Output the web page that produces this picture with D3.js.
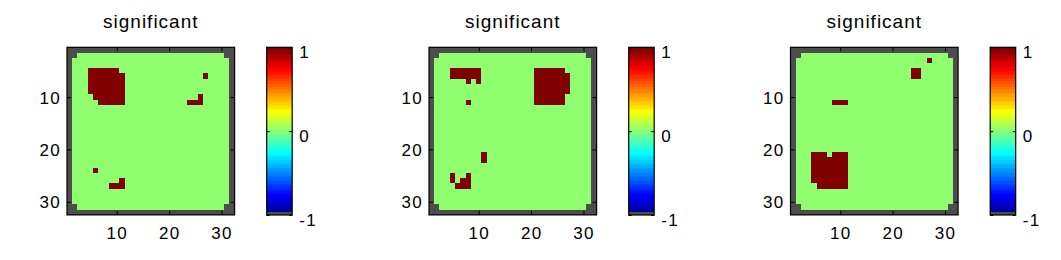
<!DOCTYPE html>
<html><head><meta charset="utf-8">
<script src="https://cdn.jsdelivr.net/npm/d3@7"></script>
<style>
body{margin:0;background:#fff}
svg{display:block}
text{font-family:"Liberation Sans",Arial,Helvetica,sans-serif;fill:#000}
</style>
</head><body>
<svg id="chart" width="1061" height="260"></svg>
<script>
// ---------------- data ----------------
const gridSize = 32;
const xTickValues = [10, 20, 30];
const yTickValues = [10, 20, 30];
const colorbarTicks = [-1, 0, 1];
const titles = ["significant", "significant", "significant"];
const maskValue = -1, baseValue = 0, sigValue = 1;
// rectangles [rowStart,rowEnd,colStart,colEnd] (1-based, inclusive)
const maskRects = [[1,1,1,32],[32,32,1,32],[1,32,1,1],[1,32,32,32],
                   [2,2,2,2],[2,2,31,31],[31,31,2,2],[31,31,31,31]];
const sigPanel1 = [[5,5,5,10],[6,9,5,11],[10,10,6,11],[11,11,7,11],
                   [6,6,27,27],[10,10,26,26],[11,11,24,26],
                   [24,24,6,6],[26,26,11,11],[27,27,9,11]];
const sigPanel2 = [[5,6,5,10],[7,7,8,8],[7,7,10,10],[11,11,8,8],
                   [5,5,21,26],[6,9,21,27],[10,11,21,26],
                   [21,22,11,11],
                   [25,26,5,5],[25,25,8,8],[26,26,7,8],[27,27,6,8]];
const sigPanel3 = [[3,3,27,27],[5,6,24,25],[11,11,9,11],
                   [21,21,5,7],[21,21,9,11],[22,26,5,11],[27,27,6,11]];
const panelsSig = [sigPanel1, sigPanel2, sigPanel3];

// ---------------- layout ----------------
const panelLeft = [67, 429, 790.5];
const boxTop = 47.3, boxSize = 167.6;
const cbOffset = 199.7, cbWidth = 25.5, cbTop = 47.3, cbBottom = 215;

// ---------------- colormap (MATLAB jet(64), first entry gray) ----------------
function jet(n){
  const m = Math.ceil(n/4);
  const u = [];
  for (let i=1;i<=m;i++) u.push(i/m);
  for (let i=0;i<m-1;i++) u.push(1);
  for (let i=m;i>=1;i--) u.push(i/m);
  const g0 = Math.ceil(m/2) - (n%4===1?1:0);
  const J = Array.from({length:n},()=>[0,0,0]);
  u.forEach((v,k)=>{
    const g = g0+k+1, r = g+m, b = g-m;
    if (r<=n) J[r-1][0]=v;
    if (g<=n) J[g-1][1]=v;
    if (b>=1) J[b-1][2]=v;
  });
  return J;
}
const cmapArr = jet(64);
cmapArr[0] = [0.3,0.3,0.3];
const cmap = cmapArr.map(c=>d3.rgb(c[0]*255,c[1]*255,c[2]*255).formatHex());
const color = d3.scaleQuantize().domain([-1,1]).range(cmap);

function buildMatrix(sig){
  const cells = [];
  const M = Array.from({length:gridSize},()=>Array(gridSize).fill(baseValue));
  maskRects.forEach(([r0,r1,c0,c1])=>{for(let r=r0;r<=r1;r++)for(let c=c0;c<=c1;c++)M[r-1][c-1]=maskValue;});
  sig.forEach(([r0,r1,c0,c1])=>{for(let r=r0;r<=r1;r++)for(let c=c0;c<=c1;c++)M[r-1][c-1]=sigValue;});
  for(let r=1;r<=gridSize;r++)for(let c=1;c<=gridSize;c++)cells.push({row:r,col:c,v:M[r-1][c-1]});
  return cells;
}

const svg = d3.select("#chart");
const idx = d3.range(1, gridSize+1);

panelsSig.forEach((sig,p)=>{
  const L = panelLeft[p];
  const g = svg.append("g");
  const xb = d3.scaleBand().domain(idx).range([L, L+boxSize]);
  const yb = d3.scaleBand().domain(idx).range([boxTop, boxTop+boxSize]);
  const x = d3.scaleLinear().domain([0.5, gridSize+0.5]).range([L, L+boxSize]);
  const y = d3.scaleLinear().domain([0.5, gridSize+0.5]).range([boxTop, boxTop+boxSize]);

  g.append("g").attr("shape-rendering","crispEdges")
    .selectAll("rect").data(buildMatrix(sig)).join("rect")
    .attr("x",d=>xb(d.col)).attr("y",d=>yb(d.row))
    .attr("width",xb.bandwidth()+0.3).attr("height",yb.bandwidth()+0.3)
    .attr("fill",d=>color(d.v));

  // axes with inward ticks
  const bottom = g.append("g").attr("transform",`translate(0,${boxTop+boxSize})`)
    .call(d3.axisBottom(x).tickValues(xTickValues).tickSizeInner(-4).tickSizeOuter(0).tickPadding(0));
  const top = g.append("g").attr("transform",`translate(0,${boxTop})`)
    .call(d3.axisTop(x).tickValues(xTickValues).tickSizeInner(-4).tickSizeOuter(0).tickFormat(""));
  const left = g.append("g").attr("transform",`translate(${L},0)`)
    .call(d3.axisLeft(y).tickValues(yTickValues).tickSizeInner(-4).tickSizeOuter(0).tickPadding(0));
  const right = g.append("g").attr("transform",`translate(${L+boxSize},0)`)
    .call(d3.axisRight(y).tickValues(yTickValues).tickSizeInner(-4).tickSizeOuter(0).tickFormat(""));
  [bottom,top,left,right].forEach(a=>{a.select(".domain").remove();a.selectAll("line").attr("stroke","#000");});
  bottom.selectAll("text").attr("y",24).attr("dy",null).attr("font-size","17px").attr("letter-spacing","1.3px");
  left.selectAll("text").attr("x",-6).attr("dy","0.36em").attr("font-size","17px").attr("letter-spacing","1.3px");
  g.append("rect").attr("x",L).attr("y",boxTop).attr("width",boxSize).attr("height",boxSize)
    .attr("fill","none").attr("stroke","#000").attr("stroke-width",1.2);

  g.append("text").attr("x",L+boxSize/2).attr("y",28).attr("text-anchor","middle")
    .attr("font-size","19px").attr("letter-spacing","1px").text(titles[p]);

  // colorbar (bands drawn top-down so each lower band covers the overlap above it)
  const cL = L + cbOffset;
  const cy = d3.scaleLinear().domain([-1,1]).range([cbBottom, cbTop]);
  const step = 2/cmap.length;
  const bands = cmap.map((c,i)=>({c,i})).reverse();
  const cb = g.append("g");
  cb.append("g").attr("shape-rendering","crispEdges")
    .selectAll("rect").data(bands).join("rect")
    .attr("x",cL).attr("width",cbWidth)
    .attr("y",d=>cy(-1+(d.i+1)*step))
    .attr("height",d=>cy(-1+d.i*step)-cy(-1+(d.i+1)*step)+(d.i>0?1:0))
    .attr("fill",d=>d.c);
  cb.append("rect").attr("x",cL).attr("y",cbTop).attr("width",cbWidth).attr("height",cbBottom-cbTop)
    .attr("fill","none").attr("stroke","#000").attr("stroke-width",1.2);
  const cbr = cb.append("g").attr("transform",`translate(${cL+cbWidth},0)`)
    .call(d3.axisRight(cy).tickValues(colorbarTicks).tickSizeInner(-3).tickSizeOuter(0).tickPadding(7).tickFormat(d3.format("d")));
  const cbl = cb.append("g").attr("transform",`translate(${cL},0)`)
    .call(d3.axisLeft(cy).tickValues(colorbarTicks).tickSizeInner(-3).tickSizeOuter(0).tickFormat(""));
  [cbr,cbl].forEach(a=>{a.select(".domain").remove();a.selectAll("line").attr("stroke","#000");});
  cbr.selectAll("text").attr("x",7).attr("dy","0.6em").attr("font-size","17px").attr("letter-spacing","1.3px")
    .text(d=>d<0?"-"+Math.abs(d):d);
});
</script>
</body></html>
